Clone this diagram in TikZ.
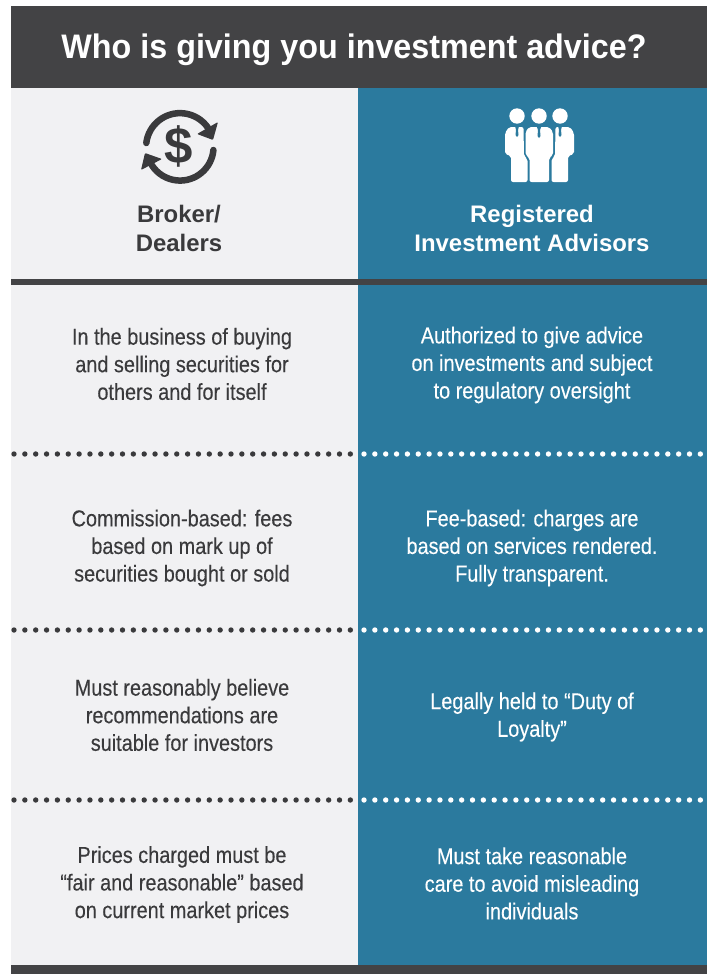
\documentclass[tikz,border=0pt]{standalone}
\usepackage{fontspec}
\setmainfont{Liberation Sans}
\newfontfamily\condfont[FakeStretch=0.865,FakeBold=0.2]{Liberation Sans}
\newfontfamily\titlefont[FakeStretch=0.95]{Liberation Sans Bold}
\definecolor{darkband}{HTML}{434345}
\definecolor{lightpanel}{HTML}{F1F1F3}
\definecolor{tealpanel}{HTML}{2B7A9E}
\definecolor{inkdark}{HTML}{3A3A3C}
\tikzset{
  x=1pt,y=-1pt,
  bodytext/.style={align=center,inner sep=0pt,font=\condfont\fontsize{23}{27.6}\selectfont},
  lefttext/.style={bodytext,text=inkdark},
  righttext/.style={bodytext,text=white},
  headtext/.style={align=center,inner sep=0pt,font=\bfseries\fontsize{23.9}{29}\selectfont},
  dotrule/.style={line width=5.4pt,line cap=round,dash pattern=on 0pt off 10.85pt},
}
\begin{document}
\begin{tikzpicture}
\useasboundingbox (0,0) rectangle (710,974);
\fill[white] (0,0) rectangle (710,974);
\fill[lightpanel] (11,88) rectangle (358,965);
\fill[tealpanel] (358,88) rectangle (707,965);
\fill[darkband] (11,6) rectangle (707,88);
\fill[darkband] (11,965) rectangle (707,974);
\fill[darkband] (11,279) rectangle (707,285);
\node[inner sep=0pt,text=white,font=\titlefont\fontsize{34}{40}\selectfont] (title) at (354,50) {Who is giving you investment advice?};
% money icon
\begin{scope}[line width=6.5pt,draw=inkdark,line cap=round]
\draw (146.3,143) arc[start angle=-173,end angle=-35,radius=34];
\draw (213.4,150) arc[start angle=5,end angle=148,radius=33.5];
\end{scope}
\fill[inkdark,rounded corners=1pt] (218,122) -- (197,134) -- (213,140) -- cycle;
\fill[inkdark,rounded corners=1pt] (141,170) -- (145,153) -- (162,159) -- cycle;
\node[inner sep=0pt,text=inkdark,font=\bfseries\fontsize{51}{52}\selectfont] (dollar) at (178.5,146.5) {\$};
% people icon
\begin{scope}[white]
\fill (517,116) circle[radius=7.7];
\fill (539,116) circle[radius=7.7];
\fill (560,116) circle[radius=7.7];
\fill[rounded corners=2pt] (509,127) -- (523.5,127) -- (524,156) -- (527.5,159) -- (527.5,182) -- (511,182) -- (511,156) -- (505,154) -- (505,133) -- cycle;
\fill[rounded corners=2pt] (570,127) -- (555.5,127) -- (555,156) -- (551.5,159) -- (551.5,182) -- (568,182) -- (568,156) -- (574,154) -- (574,133) -- cycle;
\fill[rounded corners=2pt] (529,127) -- (549,127) -- (553,132) -- (553,155) -- (549,158) -- (549,182) -- (529.5,182) -- (529.5,158) -- (525.5,155) -- (525.5,132) -- cycle;
\end{scope}
\begin{scope}[tealpanel]
\fill (536.5,126) -- (541.5,126) -- (540,130) -- (540.5,136) -- (539,138) -- (537.5,136) -- (538,130) -- cycle;
\fill (515,126) -- (519,126) -- (518,130) -- (518.5,135) -- (517,137) -- (515.5,135) -- (516,130) -- cycle;
\fill (558,126) -- (562,126) -- (561,130) -- (561.5,135) -- (560,137) -- (558.5,135) -- (559,130) -- cycle;
\end{scope}
\node[headtext,text=inkdark] (brokers) at (179,228.5) {Broker/\\Dealers};
\node[headtext,text=white] (advisors) at (532,228.5) {Registered\\Investment Advisors};
% dividers
\foreach \yy in {454,630,800}{
  \coordinate (la\yy) at (14,\yy); \coordinate (lb\yy) at (356,\yy);
  \coordinate (ra\yy) at (364,\yy); \coordinate (rb\yy) at (706,\yy);
  \draw[dotrule,inkdark] (la\yy) -- (lb\yy);
  \draw[dotrule,white] (ra\yy) -- (rb\yy);
}
\node[lefttext] (l1) at (182,364) {In the business of buying\\and selling securities for\\others and for itself};
\node[righttext] (r1) at (532,365) {Authorized to give advice\\on investments and subject\\to regulatory oversight};
\node[lefttext] (l2) at (182,548) {Commission-based: fees\\based on mark up of\\securities bought or sold};
\node[righttext] (r2) at (532,548) {Fee-based: charges are\\based on services rendered.\\Fully transparent.};
\node[lefttext] (l3) at (182,715) {Must reasonably believe\\recommendations are\\suitable for investors};
\node[righttext] (r3) at (532,717) {Legally held to “Duty of\\Loyalty”};
\node[lefttext] (l4) at (182,884.5) {Prices charged must be\\“fair and reasonable” based\\on current market prices};
\node[righttext] (r4) at (532,883.5) {Must take reasonable\\care to avoid misleading\\individuals};
\end{tikzpicture}
\end{document}
